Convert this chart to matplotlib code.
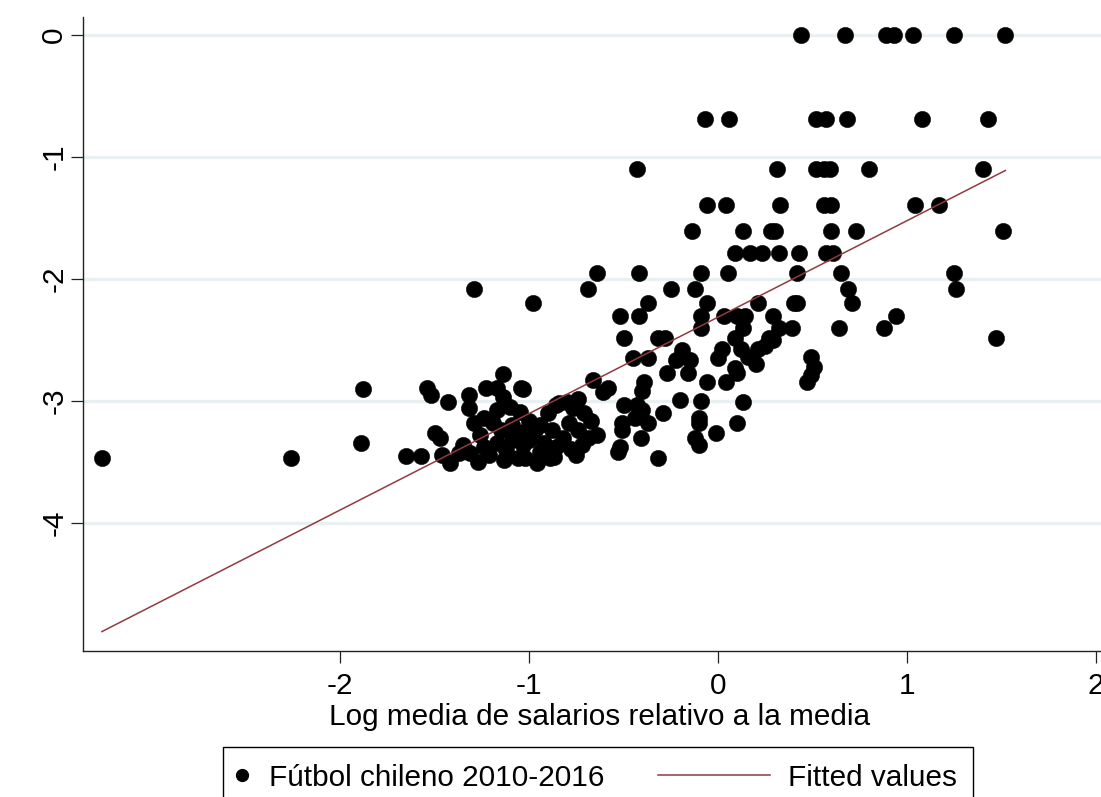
import matplotlib
matplotlib.use("Agg")
import matplotlib.pyplot as plt
from matplotlib.lines import Line2D
from matplotlib.patches import Rectangle
import numpy as np

plt.rcParams['font.family'] = ['Liberation Sans', 'DejaVu Sans']
plt.rcParams['axes.unicode_minus'] = False

# ---- data: points on discrete levels (y value -> list of x) ----
level_y = [0.0, -0.69, -1.10, -1.39, -1.61, -1.79, -1.95, -2.08, -2.20, -2.30, -2.40, -2.48]
level_x = [
    [0.44, 0.67, 0.89, 0.93, 1.03, 1.25, 1.52],
    [-0.07, 0.06, 0.52, 0.57, 0.68, 1.08, 1.43],
    [-0.43, 0.31, 0.52, 0.56, 0.59, 0.80, 1.40],
    [-0.06, 0.04, 0.33, 0.56, 0.60, 1.04, 1.17],
    [-0.14, 0.13, 0.28, 0.30, 0.60, 0.73, 1.51],
    [0.09, 0.17, 0.23, 0.32, 0.43, 0.57, 0.61],
    [-0.64, -0.42, -0.09, 0.05, 0.42, 0.65, 1.25],
    [-1.29, -0.69, -0.25, -0.12, 0.69, 1.26],
    [-0.98, -0.37, -0.06, 0.21, 0.40, 0.42, 0.71],
    [-0.52, -0.42, -0.09, 0.03, 0.10, 0.14, 0.29, 0.94],
    [-0.09, 0.13, 0.32, 0.39, 0.64, 0.88],
    [-0.50, -0.32, -0.28, 0.09, 0.27, 1.47],
]

# ---- data: dense lower cluster ----
cluster_x = [
    -3.26, -2.26, -1.88, -1.89, -1.65, -1.57, -1.54, -1.52, -1.43, -1.50, -1.47, -1.46, -1.42,
    -1.32, -1.32, -1.23, -1.17, -1.14, -1.04, -1.14, -1.17, -1.10, -1.05, -1.29, -1.24, -1.19,
    -1.15, -1.09, -1.03, -1.35, -1.31, -1.26, -1.17, -1.12, -1.09, -1.03, -1.02, -1.37, -1.21,
    -1.13, -1.06, -1.24, -1.27,
    -1.03, -1.00, -0.94, -0.88, -0.84, -0.80, -0.74, -0.66, -0.58, -0.71, -0.67, -0.64, -0.69,
    -0.74, -0.79, -0.82, -0.86, -0.89, -0.75, -0.96, -1.00, -0.92, -0.86, -0.77, -0.61, -0.72,
    -0.78, -0.87, -0.94, -0.90, -0.97,
    -0.45, -0.37, -0.22, -0.15, -0.19, 0.00, 0.02, -0.27, -0.16, -0.39, -0.40, -0.06, -0.20,
    -0.09, -0.50, -0.43, -0.40, -0.44, -0.51, -0.51, -0.37, -0.29, -0.10, -0.10, -0.12, -0.10,
    -0.52, -0.53, -0.41, -0.32, -0.01,
    0.12, 0.21, 0.25, 0.29, 0.16, 0.09, 0.20, 0.10, 0.04, 0.49, 0.51, 0.49, 0.47, 0.13, 0.10,
]
cluster_y = [
    -3.47, -3.47, -2.90, -3.34, -3.45, -3.45, -2.89, -2.95, -3.01, -3.26, -3.30, -3.44, -3.51,
    -2.95, -3.06, -2.89, -2.89, -2.78, -2.89, -2.97, -3.07, -3.05, -3.09, -3.18, -3.14, -3.18,
    -3.24, -3.20, -3.25, -3.36, -3.43, -3.28, -3.34, -3.40, -3.32, -3.36, -3.47, -3.43, -3.44,
    -3.48, -3.47, -3.38, -3.50,
    -2.90, -3.16, -3.20, -3.24, -3.02, -3.01, -2.98, -2.83, -2.89, -3.10, -3.16, -3.28, -3.30,
    -3.24, -3.18, -3.30, -3.38, -3.47, -3.44, -3.51, -3.32, -3.34, -3.03, -3.06, -2.93, -3.36,
    -3.39, -3.46, -3.42, -3.10, -3.24,
    -2.65, -2.65, -2.66, -2.66, -2.58, -2.65, -2.57, -2.77, -2.77, -2.84, -2.92, -2.84, -2.99,
    -3.00, -3.03, -3.03, -3.07, -3.14, -3.18, -3.24, -3.18, -3.10, -3.14, -3.18, -3.30, -3.36,
    -3.38, -3.42, -3.30, -3.47, -3.26,
    -2.57, -2.57, -2.55, -2.50, -2.64, -2.73, -2.70, -2.77, -2.84, -2.64, -2.72, -2.79, -2.84,
    -3.01, -3.18,
]

# ---- data: fitted line ----
fit_x = [-3.26, 1.52]
fit_y = [-4.89, -1.11]

x_ticks = [-2, -1, 0, 1, 2]
y_ticks = [0, -1, -2, -3, -4]
x_label = "Log media de salarios relativo a la media"
legend_labels = ["Fútbol chileno 2010-2016", "Fitted values"]

# ---- assemble points ----
xs = []
ys = []
for yv, row in zip(level_y, level_x):
    xs.extend(row)
    ys.extend([yv] * len(row))
xs.extend(cluster_x)
ys.extend(cluster_y)

W, H = 1101, 797
fig = plt.figure(figsize=(W / 100, H / 100), dpi=100)
fig.patch.set_facecolor('white')

left_px, right_px, top_px, bottom_px = 83, 1101, 17, 651
ax = fig.add_axes([left_px / W, 1 - bottom_px / H, (right_px - left_px) / W, (bottom_px - top_px) / H])
ax.set_xlim(-3.36, 2.026)
ax.set_ylim(-5.049, 0.148)

grid_color = '#E8F0F1'
for yt in y_ticks:
    ax.axhline(yt, color=grid_color, lw=2.4, zorder=0)

fit_color = '#923A40'
ax.plot(xs, ys, linestyle='none', marker='o', ms=11.8, mfc='black', mec='black', mew=0.3, zorder=3)
ax.plot(fit_x, fit_y, color=fit_color, lw=1.1, zorder=4)

for s in ['top', 'right']:
    ax.spines[s].set_visible(False)
for s in ['left', 'bottom']:
    ax.spines[s].set_linewidth(1.0)
    ax.spines[s].set_color('#222222')

FS = 21.4
ax.set_xticks(x_ticks)
ax.set_xticklabels([str(t) for t in x_ticks], fontsize=FS)
ax.set_yticks(y_ticks)
ax.set_yticklabels([str(t) for t in y_ticks], fontsize=FS, rotation=90, va='center')
ax.tick_params(axis='both', length=8.6, width=0.9, color='#222222')
ax.tick_params(axis='x', pad=6.5)
ax.tick_params(axis='y', pad=2)

ax.set_xlabel(x_label, fontsize=FS)
ax.xaxis.set_label_coords(0.507, -0.082)

# ---- legend (drawn in figure pixel space) ----
def fx(px):
    return px / W

def fy(py):
    return 1 - py / H

fig.add_artist(Rectangle((fx(223), fy(806)), fx(973) - fx(223), fy(747) - fy(806),
                         transform=fig.transFigure, fill=False, edgecolor='black', lw=1.0))
fig.add_artist(Line2D([fx(242)], [fy(775)], transform=fig.transFigure, marker='o',
                      ms=8.5, mfc='black', mec='black', linestyle='none'))
fig.text(fx(269), fy(786), legend_labels[0], fontsize=FS, va='baseline', ha='left')
fig.add_artist(Line2D([fx(658), fx(770)], [fy(775), fy(775)], transform=fig.transFigure,
                      color=fit_color, lw=1.1))
fig.text(fx(788), fy(786), legend_labels[1], fontsize=FS, va='baseline', ha='left')

fig.savefig('out.png', dpi=100)
